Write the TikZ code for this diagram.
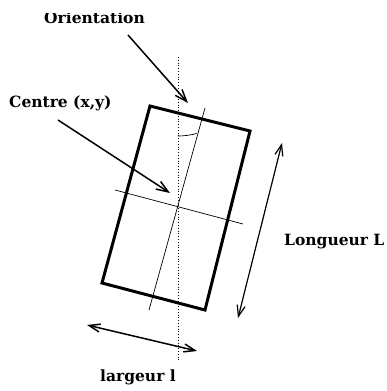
\documentclass[tikz,border=0pt]{standalone}
\usepackage{fontspec}
\setmainfont{DejaVu Serif}
\usetikzlibrary{arrows.meta}
\begin{document}
\begin{tikzpicture}[x=1pt,y=-1pt,
  lbl/.style={font=\bfseries\fontsize{15.5}{15.5}\selectfont, inner sep=0pt},
  pointer/.style={line width=1.5pt, -{Straight Barb[length=12pt,width=9pt]}},
  dimarrow/.style={line width=1.2pt, {Straight Barb[length=11pt,width=8pt]}-{Straight Barb[length=11pt,width=8pt]}},
  box/.style={line width=3pt, line join=miter},
  axisline/.style={line width=0.7pt},
  vertline/.style={line width=0.8pt, dotted}]
\useasboundingbox (0,0) rectangle (386,391);
% rectangle corners
\coordinate (tl) at (150,106);
\coordinate (tr) at (250,131);
\coordinate (br) at (205,310);
\coordinate (bl) at (102,283);
% vertical reference (dotted)
\coordinate (vtop) at (178,57);
\coordinate (vbot) at (178,362);
\draw[vertline] (vtop) -- (vbot);
% axes of the rectangle
\coordinate (la1) at (205,108);
\coordinate (la2) at (149,310);
\coordinate (wa1) at (115,190);
\coordinate (wa2) at (243,224);
\draw[axisline] (la1) -- (la2);
\draw[axisline] (wa1) -- (wa2);
% angle arc
\draw[axisline] (178,136) arc[start angle=90, end angle=74.5, radius=70];
% rectangle
\draw[box] (tl) -- (tr) -- (br) -- (bl) -- cycle;
% labels
\begin{scope}
\clip (0,13) rectangle (386,391);
\node[lbl, anchor=base] (orient) at (94.5,23) {Orientation};
\end{scope}
\node[lbl, anchor=base west] (centre) at (9,107) {Centre (x,y)};
\node[lbl, anchor=base west] (longueur) at (284,245) {Longueur L};
\node[lbl, anchor=base west] (largeur) at (100,381) {largeur l};
% pointers
\coordinate (o1) at (128,35);
\coordinate (o2) at (188,103);
\coordinate (c1) at (58,120);
\coordinate (c2) at (170,193);
\draw[pointer] (o1) -- (o2);
\draw[pointer] (c1) -- (c2);
% dimension arrows
\coordinate (L1) at (282,143);
\coordinate (L2) at (238,318);
\coordinate (l1) at (87,325);
\coordinate (l2) at (197,351);
\draw[dimarrow] (L1) -- (L2);
\draw[dimarrow, line width=1.5pt] (l1) -- (l2);
\end{tikzpicture}
\end{document}
